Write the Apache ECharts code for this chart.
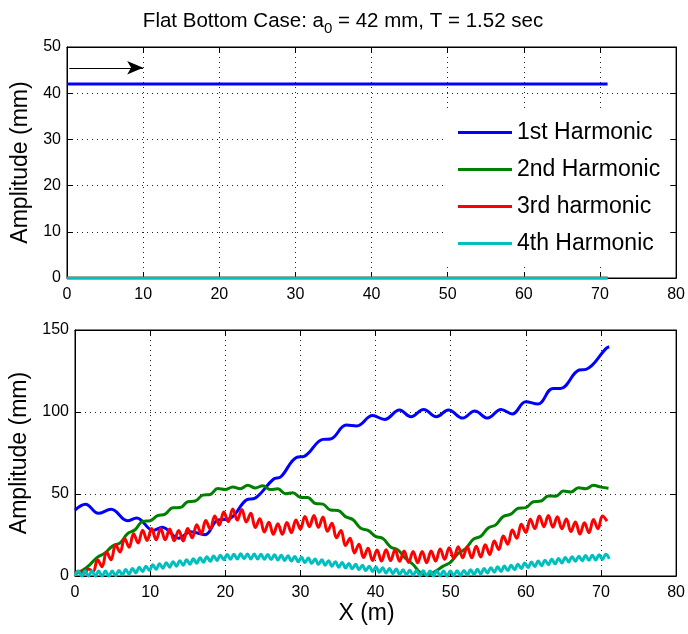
<!DOCTYPE html>
<html>
<head>
<meta charset="utf-8">
<script src="https://cdn.jsdelivr.net/npm/echarts@6/dist/echarts.min.js"></script>
<style>
  html, body { margin: 0; padding: 0; background: #fff; }
  #chart { width: 688px; height: 634px; }
</style>
</head>
<body>
<div id="chart"></div>
<script>
// Series names and colours (legend order)
const seriesNames = ['1st Harmonic', '2nd Harmonic', '3rd harmonic', '4th Harmonic'];
const seriesColors = ['#0000ff', '#008000', '#ff0000', '#00bfbf'];

// Upper panel: amplitudes at the wavemaker side, constant along the flume
const topX = [0, 71];
const top1st = [42, 42];
const top2nd = [0, 0];
const top3rd = [0, 0];
const top4th = [0, 0];
// Arrow marking the incident wave direction (x, amplitude)
const arrowFrom = [0.3, 45.5];
const arrowTo = [10, 45.5];

// Lower panel: harmonic amplitudes along the flume
const blueX = [0, 1.4, 3.1, 4.8, 7.0, 8.2, 10.4, 11.6, 13.8, 15.4, 17.3, 19.0, 20.5, 22.8, 24.0, 26.4, 27.4,
  29.5, 30.5, 33.0, 34.0, 36.1, 37.5, 39.6, 41.2, 43.2, 44.7, 46.4, 48.1, 49.7, 51.6, 53.2, 54.9,
  56.7, 58.2, 60.0, 61.6, 63.6, 64.6, 67.1, 68.0, 70.7, 71.1];
const blueY = [40.2, 43.8, 38.2, 40.7, 33.7, 35.4, 27.8, 29.7, 23.0, 27.0, 25.2, 34.1, 34.8, 46.3, 47.5, 59.0, 60.5,
  72.4, 73.0, 83.3, 83.5, 92.0, 91.5, 97.8, 95.5, 101.2, 97.1, 101.6, 97.1, 101.2, 96.3, 100.6, 96.3,
  101.6, 98.8, 106.3, 104.9, 114.4, 114.4, 125.6, 126.0, 138.8, 139.8];

// 2nd harmonic, sampled every 1 m from x = 0
const greenStep = 1;
const greenY = [1.2, 3.5, 7.0, 11.5, 14.0, 18.3, 20.2, 25.8, 28.2, 33.3,
  33.7, 36.8, 37.7, 41.6, 41.7, 45.3, 45.7, 49.3, 49.7, 53.3,
  52.7, 54.3, 53.2, 55.3, 53.7, 55.1, 52.7, 53.2, 50.2, 50.8,
  48.0, 47.8, 44.2, 43.8, 40.2, 40.0, 36.2, 34.3, 29.2, 27.8,
  24.2, 22.8, 17.7, 15.8, 10.7, 7.0, 1.8, 0.8, 3.0, 6.0,
  8.5, 13.8, 16.7, 22.3, 24.2, 29.3, 31.2, 36.3, 37.7, 41.3,
  41.7, 45.3, 45.7, 48.8, 48.7, 51.8, 51.2, 53.8, 53.2, 55.3,
  54.2, 53.5];

// 3rd harmonic, sampled every 0.6 m from x = 0
const redStep = 0.6;
const redY = [2.0, 2.9, 1.5, 4.3, 2.6, 9.9, 5.7, 14.6, 9.9, 19.0,
  14.6, 22.9, 17.6, 25.7, 20.1, 27.9, 21.7, 28.9, 22.1, 28.9,
  22.1, 28.6, 21.5, 27.8, 21.4, 28.9, 23.3, 31.3, 25.7, 33.9,
  28.6, 36.6, 31.0, 39.0, 33.2, 40.9, 34.1, 40.6, 32.9, 38.2,
  29.6, 34.9, 26.8, 32.7, 25.4, 31.9, 25.4, 32.6, 26.4, 34.2,
  28.6, 36.3, 30.1, 36.9, 29.7, 35.9, 27.3, 32.2, 23.3, 27.8,
  18.6, 23.0, 14.1, 19.4, 11.3, 16.9, 9.5, 15.9, 9.1, 16.0,
  9.4, 16.0, 9.0, 15.3, 8.3, 14.9, 8.1, 14.9, 8.1, 15.3,
  9.1, 16.5, 10.2, 17.3, 10.8, 17.9, 11.1, 17.9, 11.1, 18.1,
  11.6, 19.0, 13.1, 21.4, 16.1, 24.4, 19.4, 28.0, 23.0, 31.6,
  26.6, 34.6, 28.9, 36.6, 30.1, 36.9, 29.8, 36.2, 28.8, 34.8,
  27.1, 33.0, 25.6, 32.4, 26.4, 34.4, 28.8, 36.6, 33.5];

// 4th harmonic, sampled every 0.45 m from x = 0
const cyanStep = 0.45;
const cyanY = [0.0, 3.0, 0.0, 3.0, 0.0, 3.0, 0.0, 3.0, 0.0, 3.0, 0.0,
  3.0, 0.2, 3.4, 0.7, 3.9, 1.2, 4.5, 1.9, 5.3, 2.7,
  6.0, 3.4, 6.8, 4.1, 7.4, 4.8, 8.1, 5.4, 8.7, 6.0,
  9.3, 6.6, 9.9, 7.2, 10.5, 7.8, 11.1, 8.4, 11.7, 9.0,
  12.2, 9.5, 12.7, 9.9, 13.1, 10.2, 13.3, 10.4, 13.5, 10.5,
  13.4, 10.4, 13.4, 10.3, 13.3, 10.2, 13.1, 10.0, 12.9, 9.8,
  12.7, 9.5, 12.3, 9.1, 11.9, 8.7, 11.4, 8.2, 10.9, 7.7,
  10.4, 7.1, 9.9, 6.6, 9.3, 6.0, 8.7, 5.4, 8.2, 4.9,
  7.6, 4.4, 7.2, 3.9, 6.6, 3.3, 6.0, 2.8, 5.5, 2.3,
  5.0, 1.8, 4.6, 1.4, 4.2, 1.0, 3.8, 0.7, 3.5, 0.5,
  3.3, 0.2, 3.2, 0.2, 3.1, 0.1, 3.1, 0.1, 3.0, 0.0,
  3.0, 0.1, 3.2, 0.3, 3.4, 0.6, 3.8, 0.9, 4.1, 1.3,
  4.6, 1.8, 5.1, 2.4, 5.6, 2.8, 6.1, 3.3, 6.5, 3.9,
  7.2, 4.5, 7.9, 5.2, 8.5, 5.8, 9.1, 6.3, 9.6, 6.9,
  10.2, 7.4, 10.7, 8.0, 11.3, 8.6, 11.8, 9.0, 12.1, 9.3,
  12.5, 9.6, 12.7, 9.8, 12.9, 10.1, 13.3, 10.5];

const FONT = "'Liberation Sans', Arial, Helvetica, sans-serif";

const pairs = (xs, ys) => ys.map((y, i) => [xs[i], y]);
const stepped = (step, ys) => ys.map((y, i) => [+(i * step).toFixed(3), y]);

function mainAxis(kind, grid, min, max, interval, extra) {
  return Object.assign({
    type: 'value', gridIndex: grid, min: min, max: max, interval: interval,
    position: kind === 'x' ? 'bottom' : 'left',
    axisLine: { show: true, onZero: false, lineStyle: { color: '#000', width: 1 } },
    axisTick: { show: true, inside: true, length: 6, lineStyle: { color: '#000' } },
    axisLabel: { show: true, color: '#000', fontFamily: FONT, fontSize: 16, margin: kind === 'x' ? 9 : 6 },
    splitLine: { show: true, lineStyle: { color: '#222', width: 1, type: [1, 4] } },
    nameTextStyle: { color: '#000', fontFamily: FONT, fontSize: 23 }
  }, extra || {});
}
function mirrorAxis(kind, grid, min, max, interval) {
  return {
    type: 'value', gridIndex: grid, min: min, max: max, interval: interval,
    position: kind === 'x' ? 'top' : 'right',
    axisLine: { show: true, onZero: false, lineStyle: { color: '#000', width: 1 } },
    axisTick: { show: true, inside: true, length: 6, lineStyle: { color: '#000' } },
    axisLabel: { show: false },
    splitLine: { show: false }
  };
}

function lineSeries(name, color, data, xi, yi, width, extra) {
  return Object.assign({
    name: name, type: 'line', xAxisIndex: xi, yAxisIndex: yi, data: data,
    showSymbol: false, symbol: 'none', smooth: true,
    lineStyle: { color: color, width: width }, itemStyle: { color: color },
    emphasis: { disabled: true }, silent: true
  }, extra || {});
}

const chart = echarts.init(document.getElementById('chart'), null, { renderer: 'canvas' });

chart.setOption({
  animation: false,
  backgroundColor: '#fff',
  title: {
    left: 338, top: 1, textAlign: 'center',
    text: '{m|Flat Bottom Case: a}{s|0}{m| = 42 mm, T = 1.52 sec}',
    textStyle: {
      fontWeight: 'normal',
      rich: {
        m: { fontFamily: FONT, fontSize: 20.5, fontWeight: 'normal', color: '#000', lineHeight: 30, verticalAlign: 'middle' },
        s: { fontFamily: FONT, fontSize: 15, fontWeight: 'normal', color: '#000', lineHeight: 15, verticalAlign: 'bottom' }
      }
    }
  },
  legend: {
    data: seriesNames,
    orient: 'vertical',
    left: 443, top: 111,
    padding: [10, 10, 10, 15],
    itemWidth: 54, itemHeight: 3, itemGap: 14,
    icon: 'rect',
    backgroundColor: '#fff',
    borderWidth: 0,
    textStyle: { fontFamily: FONT, fontSize: 23, color: '#000', lineHeight: 23 },
    selectedMode: false
  },
  grid: [
    { left: 67, top: 47, width: 616, height: 231, show: true, borderColor: '#000', borderWidth: 1, backgroundColor: 'transparent' },
    { left: 75, top: 330, width: 602, height: 246, show: true, borderColor: '#000', borderWidth: 1, backgroundColor: 'transparent' }
  ],
  xAxis: [
    mainAxis('x', 0, 0, 80, 10),
    mirrorAxis('x', 0, 0, 80, 10),
    mainAxis('x', 1, 0, 80, 10, {
      name: 'X (m)', nameLocation: 'middle', nameGap: 13,
      nameTextStyle: { color: '#000', fontFamily: FONT, fontSize: 23, padding: [0, 18, 0, 0] }
    }),
    mirrorAxis('x', 1, 0, 80, 10)
  ],
  yAxis: [
    mainAxis('y', 0, 0, 50, 10, { name: 'Amplitude (mm)', nameLocation: 'middle', nameGap: 26 }),
    mirrorAxis('y', 0, 0, 50, 10),
    mainAxis('y', 1, 0, 150, 50, { name: 'Amplitude (mm)', nameLocation: 'middle', nameGap: 34 }),
    mirrorAxis('y', 1, 0, 150, 50)
  ],
  series: [
    lineSeries(seriesNames[0], seriesColors[0], pairs(topX, top1st), 0, 0, 3, {
      smooth: false, clip: false,
      markLine: {
        silent: true,
        symbol: ['none', 'arrow'],
        symbolSize: [10, 16],
        label: { show: false },
        lineStyle: { color: '#000', width: 1, type: 'solid' },
        emphasis: { disabled: true },
        data: [[{ coord: arrowFrom }, { coord: arrowTo }]]
      }
    }),
    lineSeries(seriesNames[1], seriesColors[1], pairs(topX, top2nd), 0, 0, 2.5, { smooth: false, clip: false }),
    lineSeries(seriesNames[2], seriesColors[2], pairs(topX, top3rd), 0, 0, 2.5, { smooth: false, clip: false }),
    lineSeries(seriesNames[3], seriesColors[3], pairs(topX, top4th), 0, 0, 2.5, { smooth: false, clip: false }),

    lineSeries(seriesNames[0], seriesColors[0], pairs(blueX, blueY), 2, 2, 3, { smooth: 0.4 }),
    lineSeries(seriesNames[1], seriesColors[1], stepped(greenStep, greenY), 2, 2, 3, { smooth: 0.4 }),
    lineSeries(seriesNames[2], seriesColors[2], stepped(redStep, redY), 2, 2, 3, { smooth: 0.4 }),
    lineSeries(seriesNames[3], seriesColors[3], stepped(cyanStep, cyanY), 2, 2, 3, { smooth: 0.4, clip: false })
  ]
});
</script>
</body>
</html>
